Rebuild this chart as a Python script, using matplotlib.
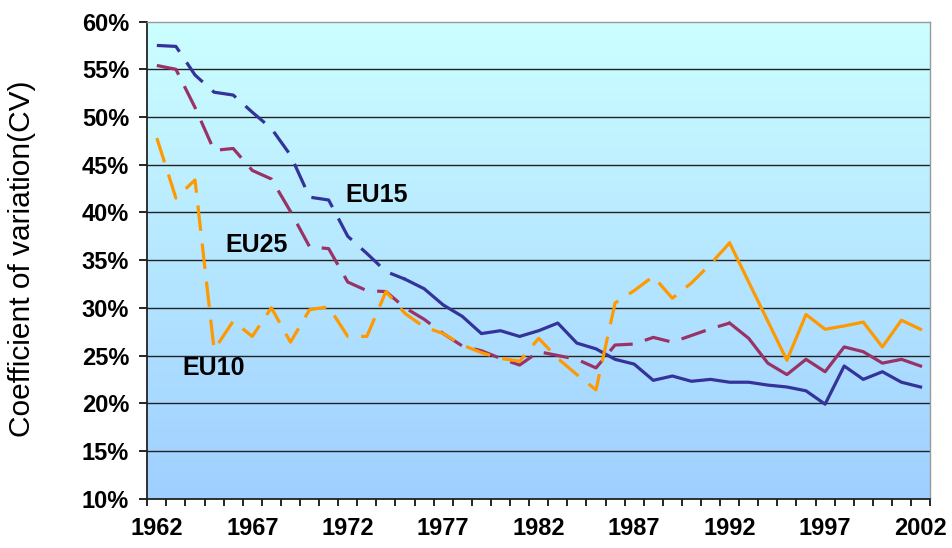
import numpy as np
import matplotlib
matplotlib.use("Agg")
import matplotlib.pyplot as plt
from matplotlib.colors import LinearSegmentedColormap

plt.rcParams['font.family'] = ['Liberation Sans', 'DejaVu Sans']

years = list(range(1962, 2003))

eu15 = [57.5, 57.4, 54.4, 52.6, 52.3, 50.5, 48.8, 46.0, 41.6, 41.3,
        37.5, 35.7, 33.8, 33.0, 32.0, 30.3, 29.1, 27.3, 27.6, 27.0,
        27.6, 28.4, 26.3, 25.7, 24.6, 24.1, 22.4, 22.85, 22.3, 22.5,
        22.2, 22.2, 21.9, 21.7, 21.3, 19.9, 23.9, 22.5, 23.3, 22.2,
        21.7]
eu25 = [55.4, 55.0, 51.0, 46.5, 46.7, 44.4, 43.5, 40.1, 36.4, 36.2,
        32.7, 31.8, 31.7, 30.0, 28.8, 27.3, 26.0, 25.5, 24.7, 24.0,
        25.4, 25.0, 24.6, 23.7, 26.1, 26.2, 26.9, 26.4, 27.1, 27.8,
        28.4, 26.8, 24.2, 23.0, 24.6, 23.3, 25.9, 25.4, 24.2, 24.6,
        23.9]
eu10 = [47.8, 41.5, 43.4, 25.6, 28.6, 27.0, 30.0, 26.4, 29.8, 30.1,
        27.0, 27.0, 31.7, 29.4, 28.0, 27.3, 26.1, 25.3, 24.7, 24.4,
        26.8, 24.7, 23.0, 21.4, 30.5, 31.8, 33.3, 31.0, 32.6, 34.6,
        36.8, 32.7, 28.6, 24.5, 29.3, 27.75, 28.1, 28.5, 25.9, 28.7,
        27.75]

# year from which each series is drawn solid (dashed before)
series = [
    ("EU15", eu15, "#333399", 1975),
    ("EU25", eu25, "#993366", 1992),
    ("EU10", eu10, "#FF9900", 1992),
]
label_pos = {"EU15": (11.5, 41.8), "EU25": (5.2, 36.6), "EU10": (3.0, 23.7)}

fig = plt.figure(figsize=(9.52, 5.48), dpi=100)
ax = fig.add_axes([0.1547, 0.0901, 0.977 - 0.1547, 0.9606 - 0.0901])

x = np.arange(len(years))
ax.set_xlim(-0.5, len(years) - 0.5)
ax.set_ylim(10, 60)

# gradient background
cmap = LinearSegmentedColormap.from_list("bg", ["#9FCFFF", "#CCFFFF"])
grad = np.linspace(0, 1, 256).reshape(-1, 1)
ax.imshow(grad, extent=[-0.5, len(years) - 0.5, 10, 60], origin="lower",
          aspect="auto", cmap=cmap, zorder=0)

for yv in range(15, 60, 5):
    ax.axhline(yv, color="#222222", lw=1.0, zorder=1)

for name, vals, col, split in series:
    k = years.index(split)
    ax.plot(x[:k + 1], vals[:k + 1], color=col, lw=2.3, dashes=(8, 4),
            solid_joinstyle="round", zorder=3)
    ax.plot(x[k:], vals[k:], color=col, lw=2.3, solid_joinstyle="round",
            zorder=3)
    lx, ly = label_pos[name]
    ax.text(lx, ly, name, fontsize=18, fontweight="bold", ha="center",
            va="center", zorder=4)

# category axis: ticks between years, labels every 5 years
ax.set_xticks(np.arange(-0.5, len(years), 1))
ax.set_xticklabels([])
ax.set_xticks(x[::5], [str(years[i]) for i in x[::5]], minor=True)
ax.tick_params(axis="x", which="major", direction="out", length=5, width=1.2)
ax.tick_params(axis="x", which="minor", length=0, pad=13, labelsize=17)
for t in ax.get_xticklabels(minor=True):
    t.set_fontweight("bold")

ax.set_yticks(range(10, 61, 5))
ax.set_yticklabels([f"{v}%" for v in range(10, 61, 5)], fontsize=17,
                   fontweight="bold")
ax.tick_params(axis="y", direction="out", length=6, width=1.2, pad=7)

for s in ["left", "bottom"]:
    ax.spines[s].set_color("#222222")
    ax.spines[s].set_linewidth(1.3)
for s in ["top", "right"]:
    ax.spines[s].set_color("#999999")
    ax.spines[s].set_linewidth(1.0)

fig.text(22 / 952, 0.527, "Coefficient of variation(CV)", rotation=90,
         ha="center", va="center", fontsize=21.5)

fig.savefig("out.png", dpi=100)
